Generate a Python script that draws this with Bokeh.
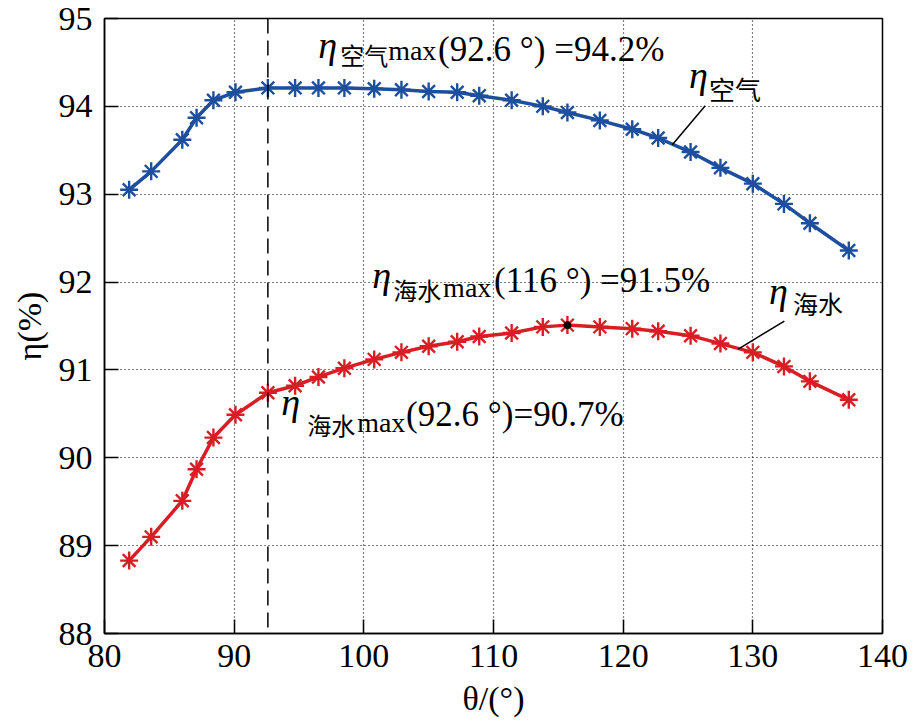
from bokeh.plotting import figure
from bokeh.models import Label, Span, FixedTicker
from bokeh.embed import file_html
from bokeh.resources import INLINE

# ---- data ----
theta = [81.9, 83.6, 86.0, 87.1, 88.4, 90.1, 92.6, 94.7, 96.5, 98.5, 100.8, 102.9,
         105.0, 107.2, 108.9, 111.4, 113.8, 115.7, 118.2, 120.7, 122.7, 125.2,
         127.5, 130.0, 132.4, 134.4, 137.4]
eta_air = [93.05, 93.26, 93.62, 93.87, 94.07, 94.16, 94.21, 94.21, 94.21, 94.21,
           94.20, 94.19, 94.17, 94.16, 94.12, 94.07, 94.00, 93.93, 93.84, 93.74,
           93.64, 93.48, 93.30, 93.12, 92.89, 92.67, 92.36]
eta_sea = [88.83, 89.10, 89.51, 89.87, 90.23, 90.49, 90.74, 90.82, 90.92, 91.02,
           91.12, 91.20, 91.27, 91.32, 91.38, 91.42, 91.49, 91.51, 91.49, 91.47,
           91.44, 91.39, 91.30, 91.20, 91.04, 90.87, 90.66]
theta_opt = 92.6
sea_max_index = 17
x_ticks = [80, 90, 100, 110, 120, 130, 140]
y_ticks = [88, 89, 90, 91, 92, 93, 94, 95]

# leader lines for series labels
air_leader_x = [126.33, 123.79]
air_leader_y = [94.008, 93.563]
sea_leader_x = [132.43, 128.88]
sea_leader_y = [91.556, 91.237]

BLUE = "#1d4f9e"
RED = "#d81e24"
SERIF = "Liberation Serif"
CJK = "Noto Sans CJK SC"

p = figure(width=910, height=726, x_range=(80, 140), y_range=(88, 95),
           output_backend="svg", toolbar_location=None,
           min_border_left=104, min_border_right=28, min_border_top=18,
           min_border_bottom=93)
p.background_fill_color = "white"
p.border_fill_color = "white"
p.outline_line_color = "black"
p.outline_line_width = 1.5

for ax, ticks in ((p.xaxis[0], x_ticks), (p.yaxis[0], y_ticks)):
    ax.ticker = FixedTicker(ticks=ticks)
    ax.major_tick_in = 14
    ax.major_tick_out = 0
    ax.minor_tick_line_color = None
    ax.axis_line_color = "black"
    ax.axis_line_width = 1.5
    ax.major_tick_line_color = "black"
    ax.major_tick_line_width = 1.5
    ax.major_label_text_font = SERIF
    ax.major_label_text_font_size = "34px"
    ax.major_label_text_color = "black"
    ax.major_label_standoff = 12
    ax.axis_label_text_font = SERIF
    ax.axis_label_text_font_size = "34px"
    ax.axis_label_text_font_style = "normal"
    ax.axis_label_text_color = "black"

p.xaxis[0].axis_label = "θ/(°)"
p.xaxis[0].major_label_standoff = 11
p.xaxis[0].axis_label_standoff = 10
p.yaxis[0].axis_label = "η(%)"
p.yaxis[0].axis_label_standoff = 8

for g in (p.xgrid[0], p.ygrid[0]):
    g.grid_line_color = "black"
    g.grid_line_dash = "1 3"
    g.grid_line_width = 1.2

p.add_layout(Span(location=theta_opt, dimension="height", line_color="black",
                  line_width=1.5, line_dash="15 7"))

# series
p.line(theta, eta_air, line_color=BLUE, line_width=3.5)
p.scatter(theta, eta_air, marker="asterisk", size=18, line_color=BLUE, line_width=2.4)
p.line(theta, eta_sea, line_color=RED, line_width=3.5)
p.scatter(theta, eta_sea, marker="asterisk", size=18, line_color=RED, line_width=2.4)
p.scatter([theta[sea_max_index]], [eta_sea[sea_max_index]], marker="circle", size=7,
          fill_color="black", line_color="black")

# leader lines
p.line(air_leader_x, air_leader_y, line_color="black", line_width=1.5)
p.line(sea_leader_x, sea_leader_y, line_color="black", line_width=1.5)

DY = -12  # baseline correction


def px_x(px):
    return 80 + (px - 104.3) / 12.97


def px_y(py):
    return 95 - (py + DY - 18) / 87.86


def lab(px, py, text, font, size, style="normal"):
    p.add_layout(Label(x=px_x(px), y=px_y(py), text=text, text_font=font,
                       text_font_size=size, text_font_style=style,
                       text_color="black", text_align="left",
                       text_baseline="alphabetic"))


# annotation: air max
lab(318, 57, "η", SERIF, "38px", "italic")
lab(340, 66, "空气", CJK, "24px")
lab(388, 62, "max", SERIF, "28px")
lab(438, 61, "(92.6 °) =94.2%", SERIF, "35px")

# annotation: sea max
lab(372, 287, "η", SERIF, "38px", "italic")
lab(393, 301, "海水", CJK, "24px")
lab(443, 299, "max", SERIF, "28px")
lab(494, 292, "(116 °) =91.5%", SERIF, "35px")

# annotation: sea at 92.6
lab(281, 414, "η", SERIF, "38px", "italic")
lab(307, 436, "海水", CJK, "24px")
lab(357, 434, "max", SERIF, "28px")
lab(406, 426, "(92.6 °)=90.7%", SERIF, "35px")

# series labels
lab(689, 87, "η", SERIF, "38px", "italic")
lab(709, 100, "空气", CJK, "26px")
lab(769, 303, "η", SERIF, "38px", "italic")
lab(793, 315, "海水", CJK, "25px")

open("out.html", "w").write(file_html(p, INLINE))
